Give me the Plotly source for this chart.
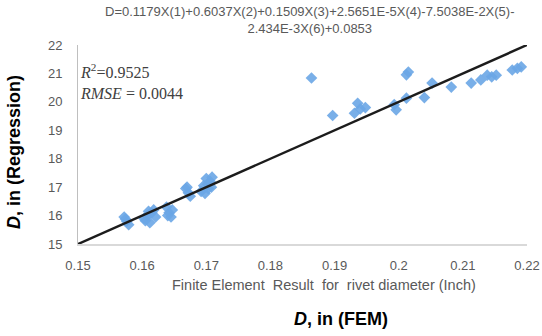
import plotly.graph_objects as go

# ---- data ----
fem_x = [0.1572, 0.1576, 0.1579, 0.1574,
         0.1603, 0.1608, 0.1612, 0.1615, 0.1618, 0.1621, 0.1610, 0.1605,
         0.1638, 0.1642, 0.1645, 0.1647, 0.1640,
         0.1668, 0.1672, 0.1675, 0.1670,
         0.1692, 0.1696, 0.1700, 0.1703, 0.1706, 0.1709, 0.1702, 0.1698, 0.1708,
         0.1864, 0.1897, 0.1931, 0.1936, 0.1940, 0.1948,
         0.1993, 0.1996, 0.2012, 0.2015, 0.2012, 0.2040, 0.2052, 0.2082,
         0.2113, 0.2128, 0.2138, 0.2145, 0.2152, 0.2177, 0.2185, 0.2191]
reg_y = [15.95, 15.80, 15.68, 15.88,
         15.90, 16.00, 15.75, 16.10, 16.20, 15.95, 16.15, 15.82,
         16.30, 16.10, 15.95, 16.20, 16.00,
         16.95, 16.80, 16.68, 17.00,
         16.85, 17.05, 17.30, 16.95, 17.20, 17.35, 17.10, 16.78, 17.00,
         20.84, 19.52, 19.60, 19.95, 19.75, 19.80,
         19.90, 19.72, 20.13, 21.05, 20.95, 20.15, 20.66, 20.52,
         20.66, 20.77, 20.94, 20.88, 20.94, 21.12, 21.18, 21.23]
line_x = [0.15, 0.22]
line_y = [15, 22]
x_tickvals = [0.15, 0.16, 0.17, 0.18, 0.19, 0.20, 0.21, 0.22]
x_ticktext = ["0.15", "0.16", "0.17", "0.18", "0.19", "0.2", "0.21", "0.22"]
y_tickvals = [15, 16, 17, 18, 19, 20, 21, 22]
title_text = "D=0.1179X(1)+0.6037X(2)+0.1509X(3)+2.5651E-5X(4)-7.5038E-2X(5)-<br>2.434E-3X(6)+0.0853"

W, H = 542, 336
L, R, T, B = 78, 15, 45, 92
pw, ph = W - L - R, H - T - B

def px(x):
    return (x - L) / pw

def py(y):
    return (H - B - y) / ph

fig = go.Figure()
fig.add_trace(go.Scatter(
    x=fem_x, y=reg_y, mode="markers",
    marker=dict(symbol="diamond", size=9, color="#6aa6e6", opacity=0.9,
                line=dict(width=0)),
    showlegend=False, hoverinfo="skip"))
fig.add_trace(go.Scatter(
    x=line_x, y=line_y, mode="lines",
    line=dict(color="#1c1c1c", width=2.5),
    showlegend=False, hoverinfo="skip"))

SANS = "Liberation Sans, Arial, sans-serif"
tickfont = dict(family=SANS, size=13, color="#595959")

fig.update_layout(
    width=W, height=H, autosize=False,
    margin=dict(l=L, r=R, t=T, b=B),
    paper_bgcolor="white", plot_bgcolor="white",
    xaxis=dict(range=[0.15, 0.22], tickvals=x_tickvals, ticktext=x_ticktext,
               showgrid=False, zeroline=False, showline=True, automargin=False,
               linecolor="#d9d9d9", linewidth=1.5, ticks="",
               tickfont=tickfont, ticklabelstandoff=9),
    yaxis=dict(range=[15, 22], tickvals=y_tickvals,
               showgrid=False, zeroline=False, showline=True, automargin=False,
               linecolor="#bfbfbf", linewidth=1, ticks="",
               tickfont=tickfont, ticklabelstandoff=12),
)

ann = [
    dict(text=title_text, x=px(310), y=py(20), xref="paper", yref="paper",
         showarrow=False, xanchor="center", yanchor="middle",
         font=dict(family=SANS, size=13, color="#595959")),
    dict(text="<i>R</i><sup>2</sup>=0.9525", x=px(78), y=py(71), xref="paper", yref="paper",
         showarrow=False, xanchor="left", yanchor="middle",
         font=dict(family="Liberation Serif, Times New Roman, serif", size=16, color="#404040")),
    dict(text="<i>RMSE</i> = 0.0044", x=px(78), y=py(93), xref="paper", yref="paper",
         showarrow=False, xanchor="left", yanchor="middle",
         font=dict(family="Liberation Serif, Times New Roman, serif", size=16, color="#404040")),
    dict(text="Finite Element  Result  for  rivet diameter (Inch)", x=px(324), y=py(285),
         xref="paper", yref="paper", showarrow=False, xanchor="center", yanchor="middle",
         font=dict(family=SANS, size=14.5, color="#595959")),
    dict(text="<b><i>D</i>, in (FEM)</b>", x=px(341), y=py(319),
         xref="paper", yref="paper", showarrow=False, xanchor="center", yanchor="middle",
         font=dict(family=SANS, size=18, color="black")),
    dict(text="<b><i>D</i>, in (Regression)</b>", x=px(14), y=py(152), textangle=-90,
         xref="paper", yref="paper", showarrow=False, xanchor="center", yanchor="middle",
         font=dict(family=SANS, size=18, color="black")),
]
fig.update_layout(annotations=ann)

fig.write_html("out.html", config={"displayModeBar": False},
               post_script="document.body.style.margin='0';document.body.style.overflow='hidden';")
